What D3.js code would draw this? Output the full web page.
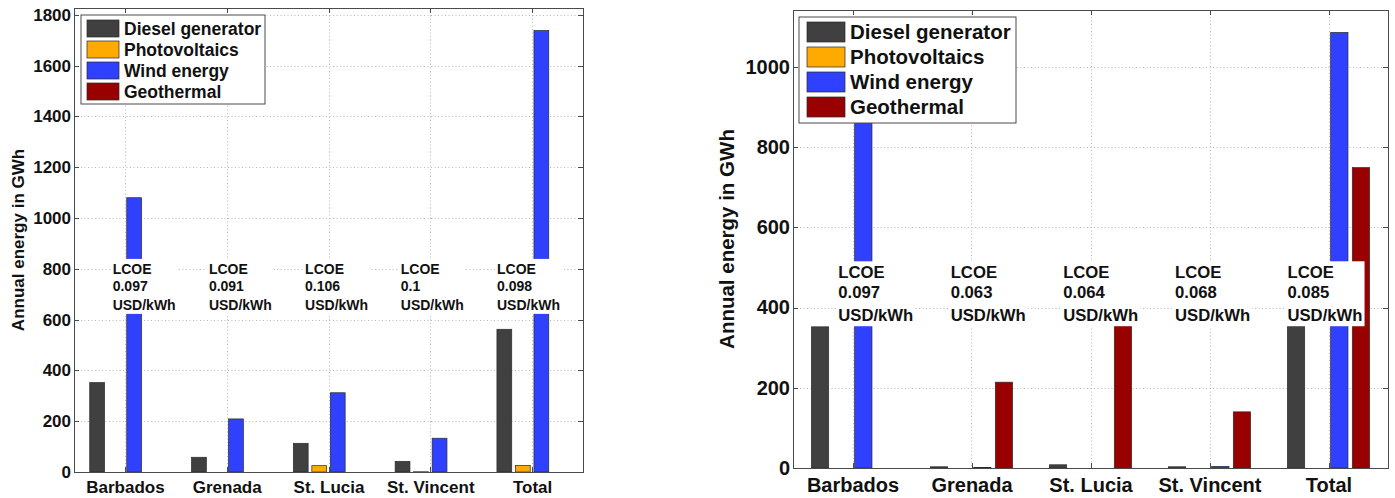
<!DOCTYPE html>
<html>
<head>
	<meta charset="utf-8">
	<title>Annual energy by island</title>
	<script src="https://cdn.jsdelivr.net/npm/d3@7"></script>
	<style>
		body { margin: 0; background: #fff; }
		svg { display: block; font-family: "Liberation Sans", Arial, sans-serif; font-weight: bold; }
		.grid line { stroke: #b8b8b8; stroke-width: 1; stroke-dasharray: 1,2.5; }
		.axis path, .axis line { stroke: #4a4a4a; stroke-width: 1; shape-rendering: crispEdges; }
		.axis text { fill: #111; font-weight: bold; }
	</style>
</head>
<body>
	<svg id="chart" width="1395" height="498"></svg>
	<script>
		// shared categories / series
		var categories = ['Barbados', 'Grenada', 'St. Lucia', 'St. Vincent', 'Total'];
		var seriesNames = ['Diesel generator', 'Photovoltaics', 'Wind energy', 'Geothermal'];
		var seriesColors = ['#404040', '#ffaa00', '#3040ff', '#990000'];

		// left panel (GWh)
		var dieselLeft = [352, 58, 113, 42, 562];
		var pvLeft = [0, 0, 25, 1, 26];
		var windLeft = [1080, 209, 312, 133, 1738];
		var geoLeft = [0, 0, 0, 0, 0];
		var lcoeLeft = ['0.097', '0.091', '0.106', '0.1', '0.098'];
		var yTicksLeft = [0, 200, 400, 600, 800, 1000, 1200, 1400, 1600, 1800];

		// right panel (GWh)
		var dieselRight = [352, 3, 8, 3, 366];
		var pvRight = [0, 0, 0, 0, 0];
		var windRight = [1080, 1, 0, 4, 1086];
		var geoRight = [0, 214, 395, 140, 749];
		var lcoeRight = ['0.097', '0.063', '0.064', '0.068', '0.085'];
		var yTicksRight = [0, 200, 400, 600, 800, 1000];

		// where the LCOE notes sit, in data units (x = category axis)
		var lcoeX = [0.88, 1.825, 2.77, 3.71, 4.655];

		var svg = d3.select('#chart');

		function drawPanel(cfg) {
			var g = svg.append('g');
			var series = [cfg.diesel, cfg.pv, cfg.wind, cfg.geo];
			var n = series.length;

			var x = d3.scaleLinear().domain([0.5, 5.5]).range([cfg.left, cfg.right]);
			var y = d3.scaleLinear().domain([0, cfg.yMax]).range([cfg.bottom, cfg.top]);

			// matlab-like grouped bar geometry
			var groupWidth = Math.min(0.8, n / (n + 1.5));
			var slot = groupWidth / n;
			var barW = x(slot * 0.8) - x(0);

			// grid
			var grid = g.append('g').attr('class', 'grid');
			grid.selectAll('.gy').data(cfg.yTicks.filter(function (d) { return d > 0; }))
				.enter().append('line')
				.attr('x1', cfg.left).attr('x2', cfg.right)
				.attr('y1', function (d) { return Math.round(y(d)) + 0.5; })
				.attr('y2', function (d) { return Math.round(y(d)) + 0.5; });
			grid.selectAll('.gx').data(d3.range(1, categories.length + 1))
				.enter().append('line')
				.attr('y1', cfg.top).attr('y2', cfg.bottom)
				.attr('x1', function (d) { return Math.round(x(d)) + 0.5; })
				.attr('x2', function (d) { return Math.round(x(d)) + 0.5; });

			// bars
			var bars = [];
			series.forEach(function (vals, j) {
				vals.forEach(function (v, i) {
					if (v > 0) bars.push({ cat: i + 1, s: j, v: v });
				});
			});
			g.append('g').selectAll('rect').data(bars).enter().append('rect')
				.attr('x', function (d) { return x(d.cat - groupWidth / 2 + (d.s + 0.5) * slot) - barW / 2; })
				.attr('width', barW)
				.attr('y', function (d) { return y(d.v); })
				.attr('height', function (d) { return cfg.bottom - y(d.v); })
				.attr('fill', function (d) { return seriesColors[d.s]; })
				.attr('stroke', '#2a2a2a')
				.attr('stroke-width', 0.7);

			// LCOE notes with white backgrounds
			var notes = g.append('g').selectAll('g').data(cfg.lcoe).enter().append('g');
			notes.each(function (d, i) {
				var note = d3.select(this);
				var t = note.append('text')
					.attr('x', x(lcoeX[i]))
					.attr('y', y(cfg.lcoeY))
					.style('font-size', cfg.noteSize + 'px')
					.attr('fill', '#111');
				t.append('tspan').attr('x', x(lcoeX[i])).text('LCOE');
				t.append('tspan').attr('x', x(lcoeX[i])).attr('dy', '1.2em').text(d);
				t.append('tspan').attr('x', x(lcoeX[i])).attr('dy', '1.37em').text('USD/kWh');
				var bb = t.node().getBBox();
				note.insert('rect', 'text')
					.attr('x', bb.x - 2).attr('y', bb.y - 2)
					.attr('width', bb.width + 4).attr('height', bb.height + 3)
					.attr('fill', '#fff');
			});

			// axes, ticks pointing inward
			g.append('g').attr('class', 'axis')
				.attr('transform', 'translate(' + cfg.left + ',0)')
				.call(d3.axisLeft(y).tickValues(cfg.yTicks).tickFormat(d3.format('d'))
					.tickSizeInner(-5).tickSizeOuter(0).tickPadding(3))
				.selectAll('text').style('font-size', cfg.tickSize + 'px');
			g.append('g').attr('class', 'axis')
				.attr('transform', 'translate(' + cfg.right + ',0)')
				.call(d3.axisRight(y).tickValues(cfg.yTicks).tickSizeInner(-5).tickSizeOuter(0).tickFormat(''));
			g.append('g').attr('class', 'axis')
				.attr('transform', 'translate(0,' + cfg.top + ')')
				.call(d3.axisTop(x).tickValues(d3.range(1, 6)).tickSizeInner(-5).tickSizeOuter(0).tickFormat(''));
			g.append('g').attr('class', 'axis')
				.attr('transform', 'translate(0,' + cfg.bottom + ')')
				.call(d3.axisBottom(x).tickValues(d3.range(1, 6)).tickSizeInner(-5).tickSizeOuter(0)
					.tickPadding(cfg.xPad).tickFormat(function (d) { return categories[d - 1]; }))
				.selectAll('text').style('font-size', cfg.tickSize + 'px');

			// y label
			g.append('text')
				.attr('transform', 'translate(' + cfg.yLabelX + ',' + (cfg.top + cfg.bottom) / 2 + ') rotate(-90)')
				.attr('text-anchor', 'middle')
				.style('font-size', cfg.yLabelSize + 'px')
				.attr('fill', '#111')
				.text('Annual energy in GWh');

			// legend
			var lg = g.append('g').attr('transform', 'translate(' + cfg.legend.x + ',' + cfg.legend.y + ')');
			lg.append('rect')
				.attr('width', cfg.legend.w).attr('height', cfg.legend.h)
				.attr('fill', '#fff').attr('stroke', '#4a4a4a').attr('stroke-width', 1);
			var rows = lg.selectAll('.row').data(seriesNames).enter().append('g')
				.attr('transform', function (d, i) { return 'translate(0,' + (cfg.legend.row0 + i * cfg.legend.step) + ')'; });
			rows.append('rect')
				.attr('x', cfg.legend.sx).attr('y', -cfg.legend.sh / 2)
				.attr('width', cfg.legend.sw).attr('height', cfg.legend.sh)
				.attr('fill', function (d, i) { return seriesColors[i]; })
				.attr('stroke', '#2a2a2a').attr('stroke-width', 0.7);
			rows.append('text')
				.attr('x', cfg.legend.tx).attr('dy', '0.36em')
				.style('font-size', cfg.legendSize + 'px')
				.attr('fill', '#111')
				.text(function (d) { return d; });

			// plot box edge lines drawn last
			g.append('rect')
				.attr('x', cfg.left + 0.5).attr('y', cfg.top + 0.5)
				.attr('width', cfg.right - cfg.left).attr('height', cfg.bottom - cfg.top)
				.attr('fill', 'none').attr('stroke', '#4a4a4a').attr('stroke-width', 1)
				.style('shape-rendering', 'crispEdges');
		}

		drawPanel({
			diesel: dieselLeft, pv: pvLeft, wind: windLeft, geo: geoLeft, lcoe: lcoeLeft,
			yTicks: yTicksLeft, yMax: 1827, lcoeY: 780,
			left: 74, right: 583, top: 8, bottom: 472,
			tickSize: 17, noteSize: 14, yLabelSize: 17, legendSize: 17.5, xPad: 8.5, yLabelX: 24,
			legend: { x: 81, y: 15, w: 184, h: 89, row0: 13.5, step: 21, sx: 6, sw: 32, sh: 17, tx: 43 }
		});

		drawPanel({
			diesel: dieselRight, pv: pvRight, wind: windRight, geo: geoRight, lcoe: lcoeRight,
			yTicks: yTicksRight, yMax: 1142, lcoeY: 473,
			left: 793, right: 1388, top: 10, bottom: 468,
			tickSize: 20, noteSize: 16.7, yLabelSize: 20.5, legendSize: 20.5, xPad: 9.5, yLabelX: 734,
			legend: { x: 799, y: 17, w: 217, h: 106, row0: 15, step: 25, sx: 8, sw: 38, sh: 20, tx: 51 }
		});
	</script>
</body>
</html>
